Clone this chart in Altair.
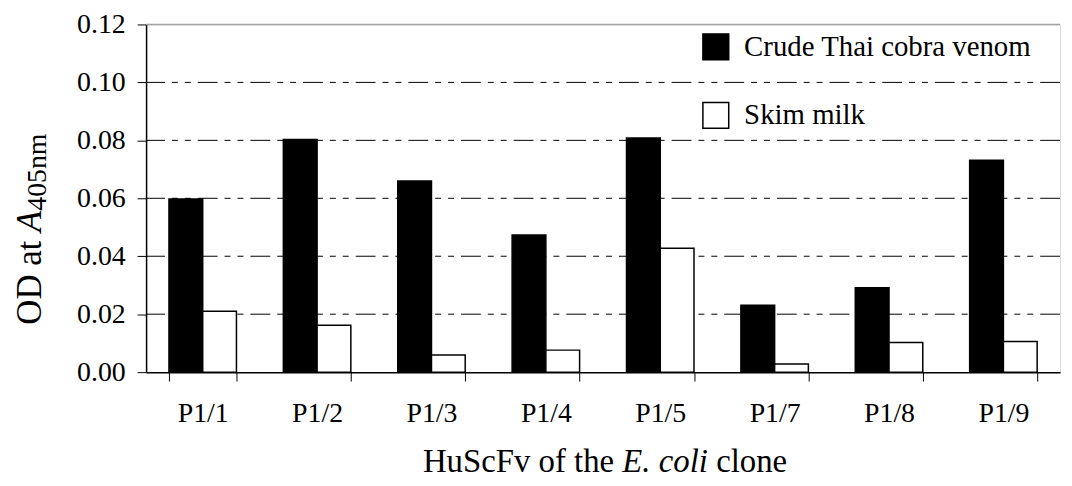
import altair as alt
import pandas as pd

clones = ["P1/1", "P1/2", "P1/3", "P1/4", "P1/5", "P1/7", "P1/8", "P1/9"]
venom = [0.0598, 0.0803, 0.0660, 0.0473, 0.0808, 0.0231, 0.0291, 0.0731]
skim = [0.0210, 0.0162, 0.0059, 0.0076, 0.0428, 0.0028, 0.0102, 0.0106]
series = ["Crude Thai cobra venom", "Skim milk"]
y_ticks = [0.00, 0.02, 0.04, 0.06, 0.08, 0.10, 0.12]
grid_values = [0.02, 0.04, 0.06, 0.08, 0.10]
top_value = [0.12]

rows = []
for c, v, s in zip(clones, venom, skim):
    rows.append({"clone": c, "series": series[0], "od": v})
    rows.append({"clone": c, "series": series[1], "od": s})
df = pd.DataFrame(rows)

FONT = "Liberation Serif"
W, H = 920, 350
TOP = 15
TICK_FS = 28
LEG_FS = 29
TITLE_FS = 33
YT_FS = 35
SUB_FS = 28

# approximate Times metrics (em) for layout of mixed-style titles
ROMAN = {"H": .722, "u": .5, "S": .556, "c": .444, "F": .556, "v": .5, " ": .25,
         "o": .5, "f": .333, "t": .278, "h": .5, "e": .444, "l": .278, "n": .5,
         "i": .278, "O": .722, "D": .722, "a": .444, "4": .5, "0": .5, "5": .5, "m": .778}
ITALIC = {"E": .611, ".": .25, " ": .25, "c": .444, "o": .5, "l": .278, "i": .278, "A": .611}


def width(s, fs, table):
    return sum(table[ch] for ch in s) * fs


yscale = alt.Scale(domain=[0, 0.12], nice=False, zero=True)

grid = alt.Chart(pd.DataFrame({"v": grid_values})).mark_rule(
    color="black", strokeWidth=1, strokeDash=[20, 7, 6, 7, 6, 7]
).encode(y=alt.Y("v:Q", scale=yscale))

top = alt.Chart(pd.DataFrame({"v": top_value})).mark_rule(
    color="#a0a0a0", strokeWidth=1.5
).encode(y=alt.Y("v:Q", scale=yscale))

bars = alt.Chart(df).mark_bar(stroke="black", strokeWidth=1.5).encode(
    x=alt.X("clone:N", sort=clones,
            scale=alt.Scale(paddingInner=0.41, paddingOuter=0.2),
            axis=alt.Axis(title=None, tickBand="extent", labelAngle=0, tickSize=9,
                          tickColor="black", domainColor="black", domainWidth=1.5,
                          labelFont=FONT, labelFontSize=TICK_FS, labelColor="black",
                          labelPadding=19)),
    xOffset=alt.XOffset("series:N", sort=series),
    y=alt.Y("od:Q", scale=yscale,
            axis=alt.Axis(title=None, values=y_ticks, format=".2f", grid=False,
                          tickSize=9, tickColor="black", domainColor="black",
                          domainWidth=1.5, labelFont=FONT, labelFontSize=TICK_FS,
                          labelColor="black", labelPadding=12)),
    fill=alt.Fill("series:N", scale=alt.Scale(domain=series, range=["black", "white"]),
                  legend=alt.Legend(title=None, orient="none", legendX=559, legendY=8,
                                    symbolType="square", symbolSize=676,
                                    symbolStrokeColor="black", symbolStrokeWidth=1.5,
                                    labelFont=FONT, labelFontSize=LEG_FS,
                                    labelColor="black", labelOffset=14, rowPadding=36,
                                    labelLimit=400)),
)

# x title: "HuScFv of the E. coli clone" (spaces handled by positions)
xt_pieces = [("HuScFv of the", "normal", " "), ("E. coli", "italic", " "), ("clone", "normal", "")]
widths = [width(t + gap, TITLE_FS, ROMAN if s == "normal" else ITALIC) for t, s, gap in xt_pieces]
start = 462 - sum(widths) / 2
xt_layers = []
cur = start
for (t, s, gap), w in zip(xt_pieces, widths):
    xt_layers.append(
        alt.Chart(pd.DataFrame({"t": [t]})).mark_text(
            font=FONT, fontSize=TITLE_FS, fontStyle=s, align="left",
            baseline="alphabetic", color="black"
        ).encode(text="t:N", x=alt.value(cur), y=alt.value(451))
    )
    cur += w

# y title: "OD at A405nm" rotated
yt_pieces = [("OD at", " ", "normal", YT_FS, 0), ("A", "", "italic", YT_FS, 0),
             ("405nm", "", "normal", SUB_FS, 5)]
ywidths = [width(t + gap, fs, ROMAN if s == "normal" else ITALIC) for t, gap, s, fs, _ in yt_pieces]
ystart = 206 + sum(ywidths) / 2
yt_layers = []
cur = ystart
for (t, gap, s, fs, shift), w in zip(yt_pieces, ywidths):
    yt_layers.append(
        alt.Chart(pd.DataFrame({"t": [t]})).mark_text(
            font=FONT, fontSize=fs, fontStyle=s, align="left", angle=270,
            baseline="alphabetic", color="black"
        ).encode(text="t:N", x=alt.value(-106 + shift), y=alt.value(cur))
    )
    cur -= w

chart = alt.layer(grid, top, bars, *xt_layers, *yt_layers).properties(
    width=W, height=H,
    autosize=alt.AutoSizeParams(type="none"),
    padding={"left": 139, "top": TOP, "right": 4, "bottom": 105},
).configure_view(stroke=None).configure(background="white")

chart.save("out.html", embed_options={"renderer": "svg", "actions": False})
